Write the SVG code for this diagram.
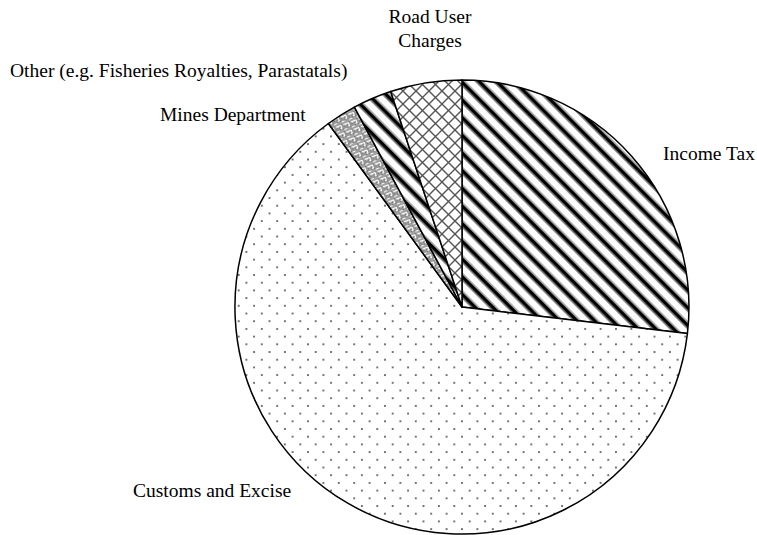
<svg xmlns="http://www.w3.org/2000/svg" width="757" height="535" viewBox="0 0 757 535">
<style>
  .lbl { font-family: "Liberation Serif", "Times New Roman", serif; font-size: 19.5px; fill: #000; }
  .wedge { stroke: #000; stroke-width: 1.5; stroke-linejoin: round; }
</style>
<defs>
  <pattern id="stripes" patternUnits="userSpaceOnUse" width="12.5" height="12.5" patternTransform="rotate(-45)">
    <rect x="0" y="0" width="12.5" height="12.5" fill="#fff"/>
    <rect x="3" y="0" width="1.3" height="12.5" fill="#888"/>
    <rect x="4.3" y="0" width="3.6" height="12.5" fill="#000"/>
    <rect x="7.9" y="0" width="1.3" height="12.5" fill="#888"/>
  </pattern>
  <pattern id="dots" patternUnits="userSpaceOnUse" x="0" y="5.5" width="15.4" height="15.4">
    <rect x="0" y="0" width="15.4" height="15.4" fill="#fff"/>
    <circle cx="0" cy="0" r="1" fill="#444"/>
    <circle cx="15.4" cy="0" r="1" fill="#444"/>
    <circle cx="0" cy="15.4" r="1" fill="#444"/>
    <circle cx="15.4" cy="15.4" r="1" fill="#444"/>
    <circle cx="7.7" cy="7.7" r="1" fill="#444"/>
  </pattern>
  <pattern id="cross" patternUnits="userSpaceOnUse" width="13" height="13">
    <rect x="0" y="0" width="13" height="13" fill="#fff"/>
    <path d="M0 0 L13 13 M13 0 L0 13" stroke="#555" stroke-width="1.4" fill="none"/>
  </pattern>
  <pattern id="key" patternUnits="userSpaceOnUse" width="8" height="8" patternTransform="rotate(-20)">
    <rect x="0" y="0" width="8" height="8" fill="#fff"/>
    <path d="M0 1 H7 V7 H3 V4 H5 M0 4 H1 V7" stroke="#444" stroke-width="1.1" fill="none"/>
  </pattern>
</defs>

<g id="pie">
  <g id="income-tax">
    <path class="wedge" fill="url(#stripes)" d="M462 307 L462 80 A227 227 0 0 1 687.4 333.6 Z"/>
  </g>
  <g id="customs-excise">
    <path class="wedge" fill="url(#dots)" d="M462 307 L687.4 333.6 A227 227 0 1 1 328.4 123.5 Z"/>
  </g>
  <g id="mines-department">
    <path class="wedge" fill="url(#key)" d="M462 307 L328.4 123.5 A227 227 0 0 1 354.4 107.1 Z"/>
  </g>
  <g id="other">
    <path class="wedge" fill="url(#stripes)" d="M462 307 L354.4 107.1 A227 227 0 0 1 390.7 91.5 Z"/>
  </g>
  <g id="road-user-charges">
    <path class="wedge" fill="url(#cross)" d="M462 307 L390.7 91.5 A227 227 0 0 1 462 80 Z"/>
  </g>
</g>

<g id="labels">
  <text class="lbl" x="430" y="23" text-anchor="middle">Road User</text>
  <text class="lbl" x="430" y="47" text-anchor="middle">Charges</text>
  <text class="lbl" x="10" y="77">Other (e.g. Fisheries Royalties, Parastatals)</text>
  <text class="lbl" x="160" y="121">Mines Department</text>
  <text class="lbl" x="663" y="160">Income Tax</text>
  <text class="lbl" x="133" y="497">Customs and Excise</text>
</g>
</svg>
